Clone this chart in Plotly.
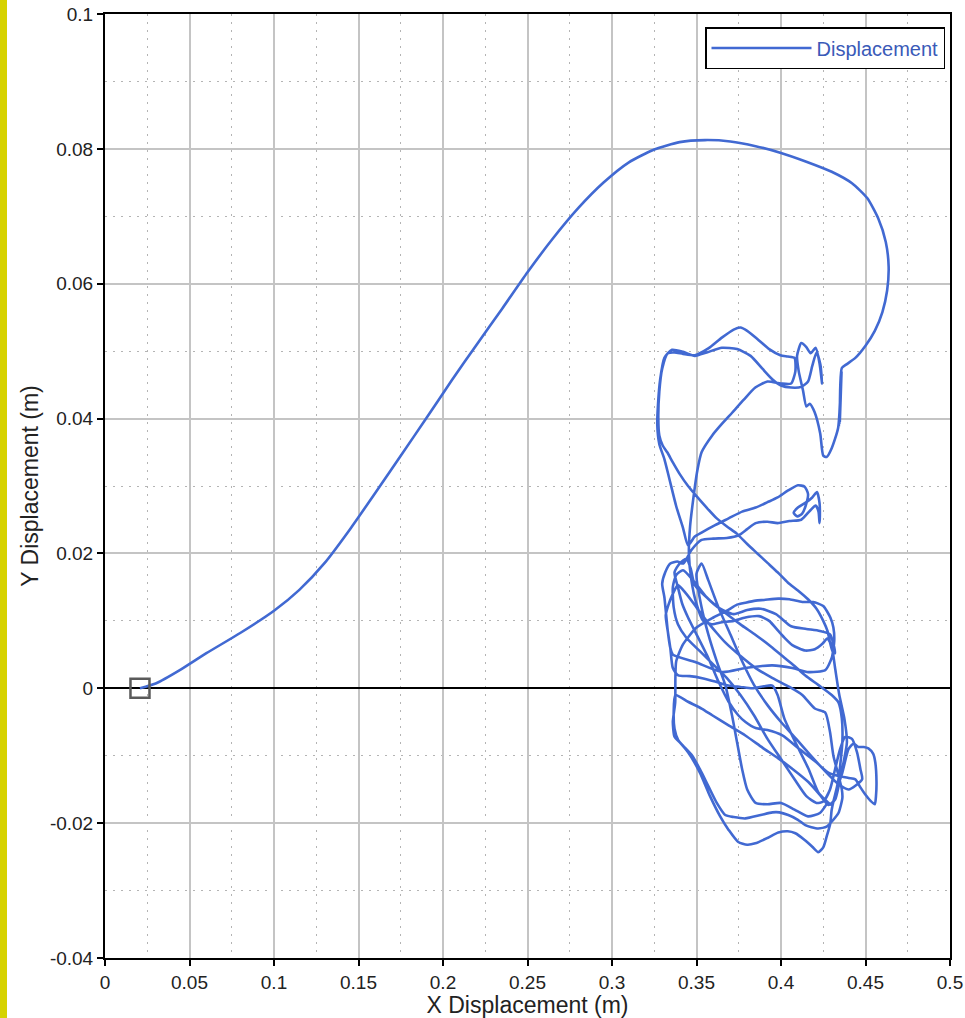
import plotly.graph_objects as go

# ---- data (metres) ----
arc = [(0.0207,0.0000),(0.0300,0.0007),(0.0450,0.0028),(0.0600,0.0052),(0.0800,0.0082),(0.1000,0.0115),
       (0.1150,0.0146),(0.1300,0.0186),(0.1450,0.0236),(0.1600,0.0290),(0.1750,0.0345),(0.1900,0.0400),
       (0.2050,0.0456),(0.2200,0.0510),(0.2350,0.0563),(0.2500,0.0617),(0.2650,0.0667),(0.2800,0.0712),
       (0.2950,0.0750),(0.3100,0.0780),(0.3250,0.0799),(0.3400,0.0810),(0.3550,0.0813),(0.3700,0.0811),
       (0.3850,0.0804),(0.4000,0.0794),(0.4150,0.0781),(0.4300,0.0766),(0.4420,0.0749),(0.4510,0.0727),
       (0.4575,0.0697),(0.4620,0.0662),(0.4637,0.0625),(0.4628,0.0590),(0.4600,0.0558),(0.4555,0.0530),
       (0.4500,0.0508),(0.4440,0.0490),(0.4385,0.0480)]
scribble = [(0.4360,0.0475),(0.4348,0.0395),(0.4358,0.0468),(0.4342,0.0388),(0.4356,0.0460),
            (0.4345,0.0392),(0.4353,0.0440),(0.4338,0.0386)]
v_peaks = [(0.4300,0.0356),(0.4270,0.0343),(0.4250,0.0345),(0.4232,0.0378),(0.4198,0.0410),(0.4170,0.0422),
           (0.4150,0.0418),(0.4130,0.0442),(0.4105,0.0470),(0.4095,0.0493),(0.4120,0.0512),(0.4150,0.0506),
           (0.4175,0.0497),(0.4205,0.0505),(0.4228,0.0482),(0.4243,0.0452),(0.4233,0.0480),(0.4210,0.0498),
           (0.4185,0.0478),(0.4160,0.0455),(0.4120,0.0447),(0.4060,0.0446)]
lower_hump = [(0.4000,0.0449),(0.3950,0.0458),(0.3890,0.0474),(0.3820,0.0493),(0.3740,0.0503),(0.3650,0.0505),
              (0.3560,0.0498),(0.3490,0.0493),(0.3420,0.0499),(0.3355,0.0502),(0.3310,0.0490),(0.3285,0.0458),
              (0.3272,0.0420),(0.3268,0.0390),(0.3280,0.0362),(0.3310,0.0340),(0.3340,0.0310),(0.3380,0.0270),
              (0.3420,0.0238),(0.3450,0.0212)]
lobe = [(0.3490,0.0225),(0.3530,0.0231),(0.3610,0.0242),(0.3690,0.0252),(0.3770,0.0262),(0.3850,0.0268),
        (0.3920,0.0276),(0.3980,0.0283),(0.4040,0.0293),(0.4100,0.0301),(0.4140,0.0299),(0.4160,0.0288),
        (0.4145,0.0270),(0.4125,0.0259),(0.4097,0.0255),(0.4075,0.0260),(0.4100,0.0268),(0.4150,0.0276),
        (0.4185,0.0283),(0.4213,0.0291),(0.4228,0.0275),(0.4230,0.0255),(0.4228,0.0245),(0.4222,0.0262),
        (0.4205,0.0271),(0.4170,0.0263),(0.4120,0.0250),(0.4050,0.0248),(0.3980,0.0245),(0.3920,0.0247),
        (0.3850,0.0245),(0.3800,0.0236),(0.3750,0.0227),(0.3680,0.0223),(0.3600,0.0222),(0.3530,0.0220),
        (0.3470,0.0205)]
hook_mid = [(0.3422,0.0185),(0.3386,0.0188),(0.3345,0.0185),(0.3315,0.0172),(0.3297,0.0155),(0.3310,0.0135),
            (0.3320,0.0110),(0.3330,0.0085),(0.3345,0.0060),(0.3360,0.0050),(0.3493,0.0039),(0.3653,0.0024),
            (0.3789,0.0030),(0.3949,0.0034),(0.4067,0.0030),(0.4162,0.0024),(0.4262,0.0027),(0.4300,0.0045),
            (0.4315,0.0070)]
top_bottom = [(0.4310,0.0090),(0.4292,0.0105),(0.4250,0.0122),(0.4190,0.0128),(0.4126,0.0128),(0.4050,0.0132),
              (0.3984,0.0133),(0.3900,0.0131),(0.3850,0.0130),(0.3790,0.0127),(0.3740,0.0124),(0.3680,0.0115),
              (0.3600,0.0105),(0.3500,0.0090),(0.3420,0.0065),(0.3380,0.0040),(0.3375,0.0015),(0.3374,-0.0021),
              (0.3360,-0.0050),(0.3370,-0.0072),(0.3400,-0.0080),(0.3450,-0.0095),(0.3520,-0.0125),(0.3580,-0.0160),
              (0.3640,-0.0190),(0.3690,-0.0210),(0.3747,-0.0228),(0.3800,-0.0232),(0.3848,-0.0230),(0.3920,-0.0222),
              (0.3984,-0.0214),(0.4040,-0.0212),(0.4085,-0.0215),(0.4140,-0.0225),(0.4185,-0.0235),(0.4220,-0.0243),
              (0.4250,-0.0236),(0.4270,-0.0220),(0.4292,-0.0200),(0.4300,-0.0180)]
right_loop = [(0.4330,-0.0150),(0.4363,-0.0125),(0.4400,-0.0090),(0.4430,-0.0082),(0.4458,-0.0087),(0.4490,-0.0087),
              (0.4517,-0.0089),(0.4545,-0.0097),(0.4558,-0.0110),(0.4565,-0.0139),(0.4562,-0.0160),(0.4555,-0.0172),
              (0.4530,-0.0167),(0.4500,-0.0158),(0.4470,-0.0147),(0.4440,-0.0135),(0.4400,-0.0133),(0.4340,-0.0130),
              (0.4280,-0.0125),(0.4200,-0.0108),(0.4103,-0.0089),(0.4008,-0.0070),(0.3920,-0.0062),(0.3850,-0.0059),
              (0.3790,-0.0050),(0.3747,-0.0040),(0.3690,-0.0020),(0.3630,0.0010),(0.3570,0.0045),(0.3500,0.0080),
              (0.3450,0.0105),(0.3416,0.0125),(0.3390,0.0150),(0.3370,0.0172)]
diag_two = [(0.3400,0.0185),(0.3440,0.0192),(0.3465,0.0178),(0.3490,0.0153),(0.3590,0.0128),(0.3690,0.0108),
            (0.3770,0.0093),(0.3850,0.0079),(0.3940,0.0062),(0.4026,0.0044),(0.4085,0.0032),(0.4144,0.0019),
            (0.4220,0.0005),(0.4300,-0.0010),(0.4340,-0.0021)]
zero_strand = [(0.4360,-0.0045),(0.4363,-0.0080),(0.4350,-0.0115),(0.4340,-0.0135),(0.4320,-0.0158),(0.4300,-0.0173),
               (0.4260,-0.0165),(0.4220,-0.0154),(0.4162,-0.0119),(0.4085,-0.0080),(0.4020,-0.0045),(0.3980,-0.0010),
               (0.3949,0.0004),(0.3900,0.0003),(0.3830,0.0000),(0.3760,0.0002),(0.3688,0.0004),(0.3610,0.0010),
               (0.3534,0.0015),(0.3460,0.0018),(0.3392,0.0019),(0.3360,0.0030)]
diag_one = [(0.3345,0.0060),(0.3333,0.0080),(0.3318,0.0108),(0.3333,0.0123),(0.3360,0.0140),(0.3390,0.0153),
            (0.3440,0.0140),(0.3500,0.0120),(0.3560,0.0100),(0.3620,0.0082),(0.3670,0.0068),(0.3750,0.0050),
            (0.3850,0.0030),(0.3950,0.0015),(0.4050,0.0002),(0.4126,-0.0010),(0.4200,-0.0030),(0.4262,-0.0036)]
mid_bottom = [(0.4290,-0.0065),(0.4310,-0.0100),(0.4340,-0.0129),(0.4360,-0.0150),(0.4363,-0.0163),(0.4340,-0.0185),
              (0.4310,-0.0195),(0.4270,-0.0205),(0.4220,-0.0208),(0.4180,-0.0206),(0.4144,-0.0203),(0.4100,-0.0195),
              (0.4043,-0.0188),(0.3990,-0.0184),(0.3949,-0.0184),(0.3880,-0.0188),(0.3789,-0.0193),(0.3720,-0.0191),
              (0.3670,-0.0188),(0.3620,-0.0170),(0.3570,-0.0145),(0.3520,-0.0120),(0.3475,-0.0100),(0.3420,-0.0085),
              (0.3392,-0.0077),(0.3370,-0.0060),(0.3365,-0.0035),(0.3375,-0.0010)]
diag_three = [(0.3450,-0.0020),(0.3530,-0.0030),(0.3593,-0.0040),(0.3690,-0.0055),(0.3789,-0.0070),(0.3890,-0.0088),
              (0.3984,-0.0104),(0.4070,-0.0120),(0.4162,-0.0139),(0.4230,-0.0158),(0.4280,-0.0173),(0.4320,-0.0165),
              (0.4345,-0.0140)]
right_cluster = [(0.4370,-0.0110),(0.4390,-0.0080),(0.4375,-0.0045),(0.4345,-0.0010),(0.4320,0.0030),(0.4300,0.0062),
                 (0.4275,0.0074),(0.4245,0.0066),(0.4200,0.0058),(0.4144,0.0056),(0.4067,0.0064),(0.4020,0.0075),
                 (0.3984,0.0085),(0.3930,0.0100),(0.3870,0.0107),(0.3789,0.0105),(0.3720,0.0100),(0.3650,0.0098),
                 (0.3590,0.0095),(0.3540,0.0100)]
upper_hump = [(0.3500,0.0125),(0.3470,0.0160),(0.3455,0.0200),(0.3462,0.0240),(0.3480,0.0279),(0.3505,0.0323),
              (0.3530,0.0350),(0.3593,0.0375),(0.3650,0.0392),(0.3712,0.0409),(0.3780,0.0428),(0.3848,0.0446),
              (0.3920,0.0455),(0.4000,0.0452),(0.4060,0.0452),(0.4085,0.0470),(0.4080,0.0490),(0.4040,0.0492),
              (0.3996,0.0494),(0.3930,0.0503),(0.3860,0.0518),(0.3800,0.0530),(0.3760,0.0535),(0.3720,0.0532),
              (0.3650,0.0520),(0.3570,0.0504),(0.3490,0.0494),(0.3420,0.0496),(0.3370,0.0498),(0.3330,0.0497),
              (0.3297,0.0474),(0.3280,0.0440),(0.3274,0.0400),(0.3280,0.0375),(0.3300,0.0360),(0.3327,0.0350)]
long_diag = [(0.3360,0.0335),(0.3400,0.0318),(0.3450,0.0300),(0.3500,0.0285),(0.3560,0.0268),(0.3620,0.0252),
             (0.3680,0.0240),(0.3740,0.0229),(0.3800,0.0214),(0.3860,0.0200),(0.3920,0.0186),(0.3980,0.0172),
             (0.4040,0.0157),(0.4100,0.0145),(0.4160,0.0132),(0.4210,0.0118),(0.4250,0.0100),(0.4275,0.0085),
             (0.4290,0.0068),(0.4305,0.0055),(0.4320,0.0052)]
extra_one = [(0.4290,0.0080),(0.4230,0.0085),(0.4150,0.0088),(0.4060,0.0092),(0.3970,0.0110),(0.3880,0.0118),
             (0.3800,0.0116),(0.3720,0.0110),(0.3640,0.0118),(0.3560,0.0135),(0.3480,0.0160),(0.3420,0.0175),
             (0.3380,0.0168),(0.3360,0.0150),(0.3365,0.0120),(0.3390,0.0095),(0.3440,0.0075),(0.3520,0.0055),
             (0.3600,0.0035),(0.3680,0.0015),(0.3760,-0.0010),(0.3840,-0.0040),(0.3920,-0.0075),(0.4000,-0.0105),
             (0.4080,-0.0135),(0.4150,-0.0160),(0.4210,-0.0170),(0.4250,-0.0168),(0.4290,-0.0150),(0.4320,-0.0120),
             (0.4350,-0.0090),(0.4380,-0.0072),(0.4420,-0.0075),(0.4450,-0.0095),(0.4470,-0.0120),(0.4480,-0.0135)]
extra_two = [(0.4400,-0.0150),(0.4330,-0.0140),(0.4250,-0.0120),(0.4170,-0.0098),(0.4090,-0.0075),(0.4000,-0.0050),
             (0.3920,-0.0025),(0.3840,0.0005),(0.3770,0.0040),(0.3700,0.0080),(0.3630,0.0120),(0.3570,0.0160),
             (0.3530,0.0185),(0.3500,0.0170),(0.3530,0.0120),(0.3570,0.0080),(0.3620,0.0040),(0.3670,0.0005),
             (0.3710,-0.0040),(0.3740,-0.0080),(0.3770,-0.0120),(0.3800,-0.0150),(0.3850,-0.0170),(0.3920,-0.0172),
             (0.4000,-0.0170),(0.4080,-0.0180),(0.4160,-0.0190),(0.4230,-0.0185),(0.4275,-0.0170)]

segments = [arc, scribble, v_peaks, lower_hump, lobe, hook_mid, top_bottom, right_loop, diag_two,
            zero_strand, diag_one, mid_bottom, diag_three, right_cluster, upper_hump, long_diag,
            extra_one, extra_two]

x_ticks = [0, 0.05, 0.1, 0.15, 0.2, 0.25, 0.3, 0.35, 0.4, 0.45, 0.5]
x_tick_labels = ["0", "0.05", "0.1", "0.15", "0.2", "0.25", "0.3", "0.35", "0.4", "0.45", "0.5"]
y_ticks = [-0.04, -0.02, 0, 0.02, 0.04, 0.06, 0.08, 0.1]
y_tick_labels = ["-0.04", "-0.02", "0", "0.02", "0.04", "0.06", "0.08", "0.1"]

xs = [p[0] for seg in segments for p in seg]
ys = [p[1] for seg in segments for p in seg]

FONT = "Liberation Sans, Arial, sans-serif"
LINE_BLUE = "#4169d2"

fig = go.Figure()
fig.add_trace(go.Scatter(x=xs, y=ys, mode="lines", name="Displacement",
                         line=dict(color=LINE_BLUE, width=2.6, shape="spline", smoothing=0.6)))
fig.add_trace(go.Scatter(x=[arc[0][0]], y=[arc[0][1]], mode="markers", showlegend=False,
                         marker=dict(symbol="square-open", size=19, color="#5a5a5a", line=dict(width=2.5))))

W, H = 965, 1018
ML, MR, MT, MB = 105, 15, 14, 60
pw, ph = W - ML - MR, H - MT - MB

axis_common = dict(
    automargin=False,
    ticks="outside", ticklen=6, tickwidth=1.5, tickcolor="black",
    showline=True, linecolor="black", linewidth=2, mirror=True,
    showgrid=True, gridcolor="#c4c4c4", gridwidth=1.5,
    tickfont=dict(family=FONT, size=19, color="#222"),
)

fig.update_layout(
    width=W, height=H,
    margin=dict(l=ML, r=MR, t=MT, b=MB, pad=0, autoexpand=False),
    plot_bgcolor="white", paper_bgcolor="white",
    showlegend=True,
    legend=dict(x=(945 - ML) / pw, xanchor="right", y=(H - MB - 27) / ph, yanchor="top",
                bgcolor="white", bordercolor="black", borderwidth=1.5,
                font=dict(family=FONT, size=20, color="#3a5ab8"), itemwidth=100,
                tracegroupgap=0),
    xaxis=dict(range=[0, 0.5], tickvals=x_ticks, ticktext=x_tick_labels, zeroline=False,
               minor=dict(dtick=0.025, tick0=0, showgrid=True, gridcolor="#b4b4b4",
                          griddash="2px,6px", gridwidth=1.2),
               title=dict(text="X Displacement (m)", font=dict(family=FONT, size=23, color="#222"), standoff=6),
               **axis_common),
    yaxis=dict(range=[-0.04, 0.1], tickvals=y_ticks, ticktext=y_tick_labels,
               zeroline=True, zerolinecolor="black", zerolinewidth=1.5,
               minor=dict(dtick=0.01, tick0=0, showgrid=True, gridcolor="#b4b4b4",
                          griddash="2px,6px", gridwidth=1.2),
               title=dict(text="Y Displacement (m)", font=dict(family=FONT, size=23, color="#222"), standoff=5),
               **axis_common),
    shapes=[dict(type="rect", xref="paper", yref="paper",
                 x0=-ML / pw, x1=(7 - ML) / pw, y0=-MB / ph, y1=1 + MT / ph,
                 fillcolor="#d6d200", line=dict(width=0), layer="below")],
)

fig.write_html("out.html")
